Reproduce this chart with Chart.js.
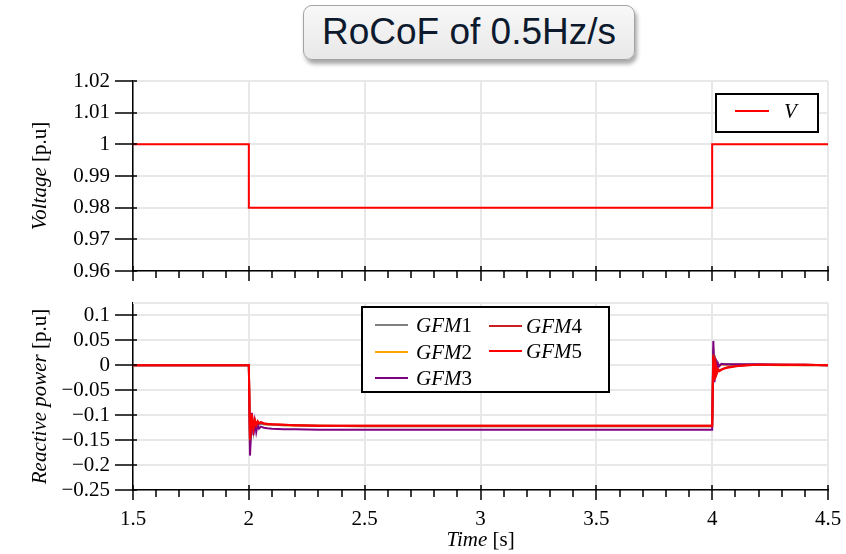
<!DOCTYPE html>
<html><head><meta charset="utf-8">
<script src="https://cdn.jsdelivr.net/npm/chart.js@4.4.1/dist/chart.umd.min.js"></script>
<style>
html,body{margin:0;padding:0;background:#fff;}
body{width:846px;height:554px;position:relative;overflow:hidden;}
#title{position:absolute;left:303px;top:5px;width:332px;height:55px;box-sizing:border-box;border:1px solid #a3a3a3;border-radius:9px;background:linear-gradient(#f8f8f8,#e8e8e8);box-shadow:2px 4px 4px rgba(0,0,0,0.35);font-family:"Liberation Sans",Arial,sans-serif;font-size:37px;color:#0d1a2e;text-align:center;line-height:52px;white-space:nowrap;}
#c1{position:absolute;left:0;top:65px;}
#c2{position:absolute;left:0;top:288px;}
</style></head><body>
<div id="title">RoCoF of 0.5Hz/s</div>
<canvas id="c1" width="846" height="220"></canvas>
<canvas id="c2" width="846" height="266"></canvas>
<script>
// ---- data ----
const xTicks = [1.5, 2, 2.5, 3, 3.5, 4, 4.5];
const xMinorTicks = [1.6,1.7,1.8,1.9,2.1,2.2,2.3,2.4,2.6,2.7,2.8,2.9,3.1,3.2,3.3,3.4,3.6,3.7,3.8,3.9,4.1,4.2,4.3,4.4];
const vTicks = [0.96, 0.97, 0.98, 0.99, 1, 1.01, 1.02];
const qTicks = [-0.25, -0.2, -0.15, -0.1, -0.05, 0, 0.05, 0.1];

const timeV = [1.5, 2.0, 2.0, 4.0, 4.0, 4.5];
const voltV = [1, 1, 0.98, 0.98, 1, 1];

const timeQ = [1.5, 2.0, 2.005, 2.013, 2.02, 2.026, 2.032, 2.038, 2.044, 2.052, 2.065, 2.08, 2.1, 2.15, 2.2, 2.3, 2.5, 3.0, 3.5, 4.0,
               4.005, 4.01, 4.015, 4.02, 4.025, 4.03, 4.04, 4.05, 4.065, 4.08, 4.1, 4.15, 4.2, 4.3, 4.4, 4.5];
const gfm1 = [0, 0, -0.165, -0.100, -0.133, -0.112, -0.125, -0.114, -0.119, -0.117, -0.118, -0.118, -0.119, -0.120, -0.120, -0.121, -0.122, -0.122, -0.122, -0.122,
              0.035, -0.022, 0.008, -0.004, 0.003, 0.000, 0.002, 0.002, 0.002, 0.001, 0.001, 0.001, 0.001, 0.001, 0.000, 0.000];
const gfm2 = [0, 0, -0.158, -0.102, -0.130, -0.113, -0.123, -0.115, -0.118, -0.117, -0.118, -0.119, -0.119, -0.120, -0.121, -0.121, -0.122, -0.122, -0.122, -0.122,
              0.030, -0.020, 0.006, -0.005, 0.002, -0.001, 0.001, 0.001, 0.001, 0.001, 0.001, 0.001, 0.001, 0.000, 0.000, 0.000];
const gfm3 = [0, 0, -0.181, -0.095, -0.140, -0.113, -0.134, -0.119, -0.127, -0.123, -0.125, -0.126, -0.127, -0.128, -0.128, -0.129, -0.129, -0.129, -0.129, -0.129,
              0.049, -0.034, 0.014, -0.011, 0.004, -0.002, 0.003, 0.002, 0.002, 0.002, 0.002, 0.002, 0.002, 0.001, 0.001, 0.000];
const gfm4 = [0, 0, -0.150, -0.099, -0.128, -0.111, -0.120, -0.113, -0.117, -0.115, -0.117, -0.118, -0.118, -0.119, -0.120, -0.121, -0.121, -0.121, -0.121, -0.121,
              0.022, -0.028, 0.002, -0.014, -0.007, -0.010, -0.008, -0.006, -0.004, -0.003, -0.002, 0.000, 0.001, 0.001, 0.001, 0.000];
const gfm5 = [0, 0, -0.147, -0.097, -0.127, -0.110, -0.119, -0.112, -0.116, -0.114, -0.116, -0.117, -0.118, -0.119, -0.120, -0.121, -0.121, -0.121, -0.121, -0.121,
              0.019, -0.030, 0.000, -0.016, -0.008, -0.012, -0.009, -0.007, -0.005, -0.004, -0.002, 0.000, 0.001, 0.001, 0.001, 0.000];

// ---- helpers ----
const SERIF = '"Liberation Serif","Times New Roman",serif';
const fmt = v => (v < 0 ? '\u2212' : '') + String(Math.abs(v));
const pts = (xs, ys) => xs.map((x, i) => ({x: x, y: ys[i]}));

function mixedParts(label) {
  const m = label.match(/^(\D*)(\d*)$/);
  return [{t: m[1], it: true}, {t: m[2], it: false}];
}
function drawParts(ctx, parts, size, cx, cy, rot, align) {
  ctx.save();
  ctx.translate(cx, cy);
  if (rot) ctx.rotate(-Math.PI / 2);
  ctx.textBaseline = 'middle';
  ctx.fillStyle = '#000';
  let w = 0;
  parts.forEach(p => { ctx.font = (p.it ? 'italic ' : '') + size + 'px ' + SERIF; p.w = ctx.measureText(p.t).width; w += p.w; });
  let x = align === 'left' ? 0 : -w / 2;
  parts.forEach(p => { ctx.font = (p.it ? 'italic ' : '') + size + 'px ' + SERIF; ctx.textAlign = 'left'; ctx.fillText(p.t, x, 0); x += p.w; });
  ctx.restore();
}

const decor = {
  id: 'decor',
  beforeDatasetsDraw(chart) {
    const a = chart.chartArea, ctx = chart.ctx;
    ctx.save();
    ctx.strokeStyle = '#e8e8e8'; ctx.lineWidth = 2;
    ctx.beginPath(); ctx.moveTo(a.left, a.top); ctx.lineTo(a.right, a.top); ctx.stroke();
    ctx.restore();
  },
  afterDraw(chart, args, o) {
    const ctx = chart.ctx, a = chart.chartArea;
    const xs = chart.scales.x, ys = chart.scales.y;
    ctx.save();
    ctx.strokeStyle = '#000'; ctx.lineWidth = 1.5;
    ctx.beginPath();
    xTicks.forEach(v => { const p = Math.round(xs.getPixelForValue(v)); ctx.moveTo(p, a.bottom - 5); ctx.lineTo(p, a.bottom + 10); });
    xMinorTicks.forEach(v => { const p = Math.round(xs.getPixelForValue(v)); ctx.moveTo(p, a.bottom); ctx.lineTo(p, a.bottom + 7); });
    o.yTicks.forEach(v => { const p = Math.round(ys.getPixelForValue(v)); ctx.moveTo(a.left - 18, p); ctx.lineTo(a.left + 4, p); });
    ctx.stroke();
    ctx.restore();
    drawParts(ctx, o.yTitle, 21, o.yTitleX, (a.top + a.bottom) / 2, true);
    if (o.xTitle) drawParts(ctx, o.xTitle, 21, (a.left + a.right) / 2, o.xTitleY, false);
    const L = o.legend;
    ctx.save();
    ctx.fillStyle = '#fff';
    ctx.fillRect(L.box[0], L.box[1], L.box[2], L.box[3]);
    ctx.strokeStyle = '#000'; ctx.lineWidth = 2;
    ctx.strokeRect(L.box[0], L.box[1], L.box[2], L.box[3]);
    chart.data.datasets.forEach((ds, i) => {
      const e = L.items[i];
      ctx.strokeStyle = ds.borderColor; ctx.lineWidth = 2;
      ctx.beginPath(); ctx.moveTo(e[0], e[2]); ctx.lineTo(e[1], e[2]); ctx.stroke();
      drawParts(ctx, mixedParts(ds.label), 21, e[3], e[2] + 1, false, 'left');
    });
    ctx.restore();
  }
};

function noPad(s) { s.paddingTop = 0; s.paddingBottom = 0; s.paddingLeft = 0; s.paddingRight = 0; }
function xScale(showLabels, h) {
  return {
    type: 'linear', min: 1.5, max: 4.5,
    afterBuildTicks: s => { s.ticks = xTicks.map(v => ({value: v})); },
    afterFit: s => { s.height = h; noPad(s); },
    grid: {color: '#e8e8e8', lineWidth: 2, drawTicks: false},
    border: {color: '#000', width: 1.5},
    ticks: {display: showLabels, padding: 17, color: '#000', font: {family: SERIF, size: 21}, maxRotation: 0, autoSkip: false, callback: v => fmt(v)}
  };
}
function yScale(min, max, ticks) {
  return {
    type: 'linear', min: min, max: max,
    afterBuildTicks: s => { s.ticks = ticks.map(v => ({value: v})); },
    afterFit: s => { s.width = 133; noPad(s); },
    grid: {color: '#e8e8e8', lineWidth: 2, drawTicks: false},
    border: {color: '#000', width: 1.5},
    ticks: {padding: 23, color: '#000', font: {family: SERIF, size: 21}, autoSkip: false, callback: v => fmt(v)}
  };
}
const common = {responsive: false, animation: false, events: [], elements: {point: {radius: 0}, line: {tension: 0, borderWidth: 2}}};

new Chart(document.getElementById('c1'), {
  type: 'line',
  data: {datasets: [{label: 'V', data: pts(timeV, voltV), borderColor: '#ff0000', borderWidth: 2}]},
  options: Object.assign({}, common, {
    layout: {padding: {top: 16, right: 18, left: 0, bottom: 0}},
    scales: {x: xScale(false, 14), y: yScale(0.96, 1.02, vTicks)},
    plugins: {legend: {display: false}, tooltip: {enabled: false},
      decor: {yTicks: vTicks, yTitle: [{t: 'Voltage', it: true}, {t: ' [p.u]', it: false}], yTitleX: 40,
        legend: {box: [716, 29, 102, 38], items: [[735, 769, 46, 784]]}}}
  }),
  plugins: [decor]
});

new Chart(document.getElementById('c2'), {
  type: 'line',
  data: {datasets: [
    {label: 'GFM1', data: pts(timeQ, gfm1), borderColor: '#808080', order: 3},
    {label: 'GFM2', data: pts(timeQ, gfm2), borderColor: '#ffa500', order: 4},
    {label: 'GFM3', data: pts(timeQ, gfm3), borderColor: '#800080', order: 2},
    {label: 'GFM4', data: pts(timeQ, gfm4), borderColor: '#c82020', order: 1},
    {label: 'GFM5', data: pts(timeQ, gfm5), borderColor: '#ff0000', order: 0}
  ]},
  options: Object.assign({}, common, {
    layout: {padding: {top: 15, right: 18, left: 0, bottom: 0}},
    scales: {x: xScale(true, 64), y: yScale(-0.25, 0.125, qTicks)},
    plugins: {legend: {display: false}, tooltip: {enabled: false},
      decor: {yTicks: qTicks, yTitle: [{t: 'Reactive power', it: true}, {t: ' [p.u]', it: false}], yTitleX: 40,
        xTitle: [{t: 'Time', it: true}, {t: ' [s]', it: false}], xTitleY: 252,
        legend: {box: [362, 19, 247, 85], items: [[375, 408, 37, 416], [375, 408, 64, 416], [375, 408, 90, 416], [489, 522, 38, 526], [489, 522, 63, 526]]}}}
  }),
  plugins: [decor]
});
</script>
</body></html>
